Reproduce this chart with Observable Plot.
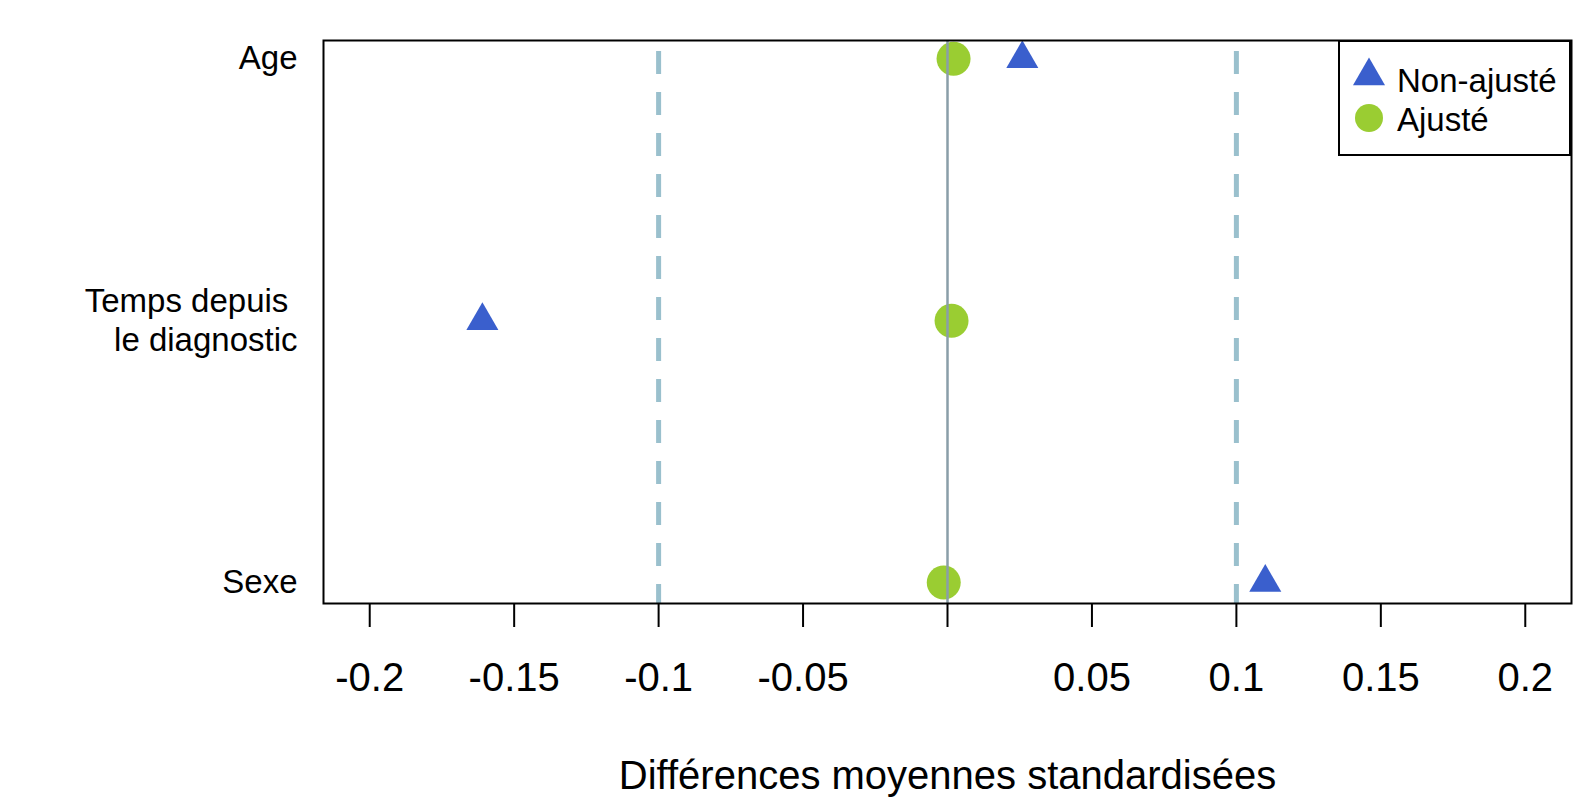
<!DOCTYPE html>
<html>
<head>
<meta charset="utf-8">
<script src="https://cdn.jsdelivr.net/npm/d3@7"></script>
<script src="https://cdn.jsdelivr.net/npm/@observablehq/plot@0.6"></script>
<style>
  body { margin: 0; background: #fff; }
  #wrap { position: relative; width: 1576px; height: 800px; font-family: "Liberation Sans", Arial, sans-serif; }
  #legend { position: absolute; left: 1338px; top: 40px; }
</style>
</head>
<body>
<div id="wrap"></div>
<script>
// ---- data ----
const variables = ["Age", "Temps depuis\u00a0\nle diagnostic", "Sexe"];
const variablePos = [3, 2, 1];
const unadjusted = [0.0259, -0.161, 0.110];
const adjusted = [0.0021, 0.0014, -0.0013];
const seriesNames = ["Non-ajusté", "Ajusté"];
const xTicks = [-0.2, -0.15, -0.1, -0.05, 0, 0.05, 0.1, 0.15, 0.2];
const xTickLabels = ["-0.2", "-0.15", "-0.1", "-0.05", "", "0.05", "0.1", "0.15", "0.2"];
const thresholds = [-0.1, 0.1];
const xLabel = "Différences moyennes standardisées";

const colUnadj = "#3A5FCD";
const colAdj = "#9ACD32";

const rowsUnadj = variables.map((v, i) => ({variable: v, pos: variablePos[i], value: unadjusted[i]}));
const rowsAdj = variables.map((v, i) => ({variable: v, pos: variablePos[i], value: adjusted[i]}));
const xLabelMap = new Map(xTicks.map((t, i) => [t, xTickLabels[i]]));
const yLabelMap = new Map(variablePos.map((p, i) => [p, variables[i]]));

const chart = Plot.plot({
  width: 1576,
  height: 800,
  marginLeft: 323,
  marginRight: 5,
  marginTop: 40,
  marginBottom: 197,
  style: {fontFamily: "'Liberation Sans', Arial, sans-serif", color: "black", background: "white"},
  x: {domain: [-0.216, 0.216]},
  y: {domain: [0.92, 3.07]},
  marks: [
    Plot.dot(rowsAdj, {x: "value", y: "pos", symbol: "circle", r: 17, fill: colAdj, stroke: "none"}),
    Plot.dot(rowsUnadj, {x: "value", y: "pos", symbol: "triangle", r: 11.9, fill: colUnadj, stroke: "none"}),
    Plot.ruleX(thresholds, {stroke: "#9AC0CD", strokeWidth: 5, strokeDasharray: "23,18", strokeDashoffset: 30}),
    Plot.ruleX([0], {stroke: "#8a9ea8", strokeWidth: 2.5}),
    Plot.frame({stroke: "black", strokeWidth: 2}),
    Plot.axisX({ticks: xTicks, tickFormat: d => xLabelMap.get(d), tickSize: 24, tickPadding: 35, fontSize: 40, strokeWidth: 2, label: null}),
    Plot.axisY({ticks: variablePos, tickFormat: d => yLabelMap.get(d), tickSize: 0, tickPadding: 26, fontSize: 33, lineHeight: 1.18, dy: -2, label: null}),
    Plot.text([xLabel], {frameAnchor: "bottom", dy: 173, fontSize: 40, lineAnchor: "middle", fill: "black"})
  ]
});

const wrap = document.getElementById("wrap");
wrap.appendChild(chart);

// ---- legend (inside the plotting frame, top right) ----
const lw = 233, lh = 116;
const leg = d3.create("svg").attr("id", "legend").attr("width", lw).attr("height", lh)
  .style("position", "absolute").style("left", "1338px").style("top", "40px");
leg.append("rect").attr("x", 1).attr("y", 1).attr("width", lw - 2).attr("height", lh - 2)
  .attr("fill", "white").attr("stroke", "black").attr("stroke-width", 2);
leg.append("path").attr("d", d3.symbol(d3.symbolTriangle, Math.PI * 11.9 * 11.9)())
  .attr("transform", "translate(31,36)").attr("fill", colUnadj);
leg.append("circle").attr("cx", 31).attr("cy", 78).attr("r", 14).attr("fill", colAdj);
leg.append("text").attr("x", 59).attr("y", 52).text(seriesNames[0])
  .attr("font-size", 33).attr("font-family", "'Liberation Sans', Arial, sans-serif").attr("fill", "black");
leg.append("text").attr("x", 59).attr("y", 91).text(seriesNames[1])
  .attr("font-size", 33).attr("font-family", "'Liberation Sans', Arial, sans-serif").attr("fill", "black");
wrap.appendChild(leg.node());
</script>
</body>
</html>
